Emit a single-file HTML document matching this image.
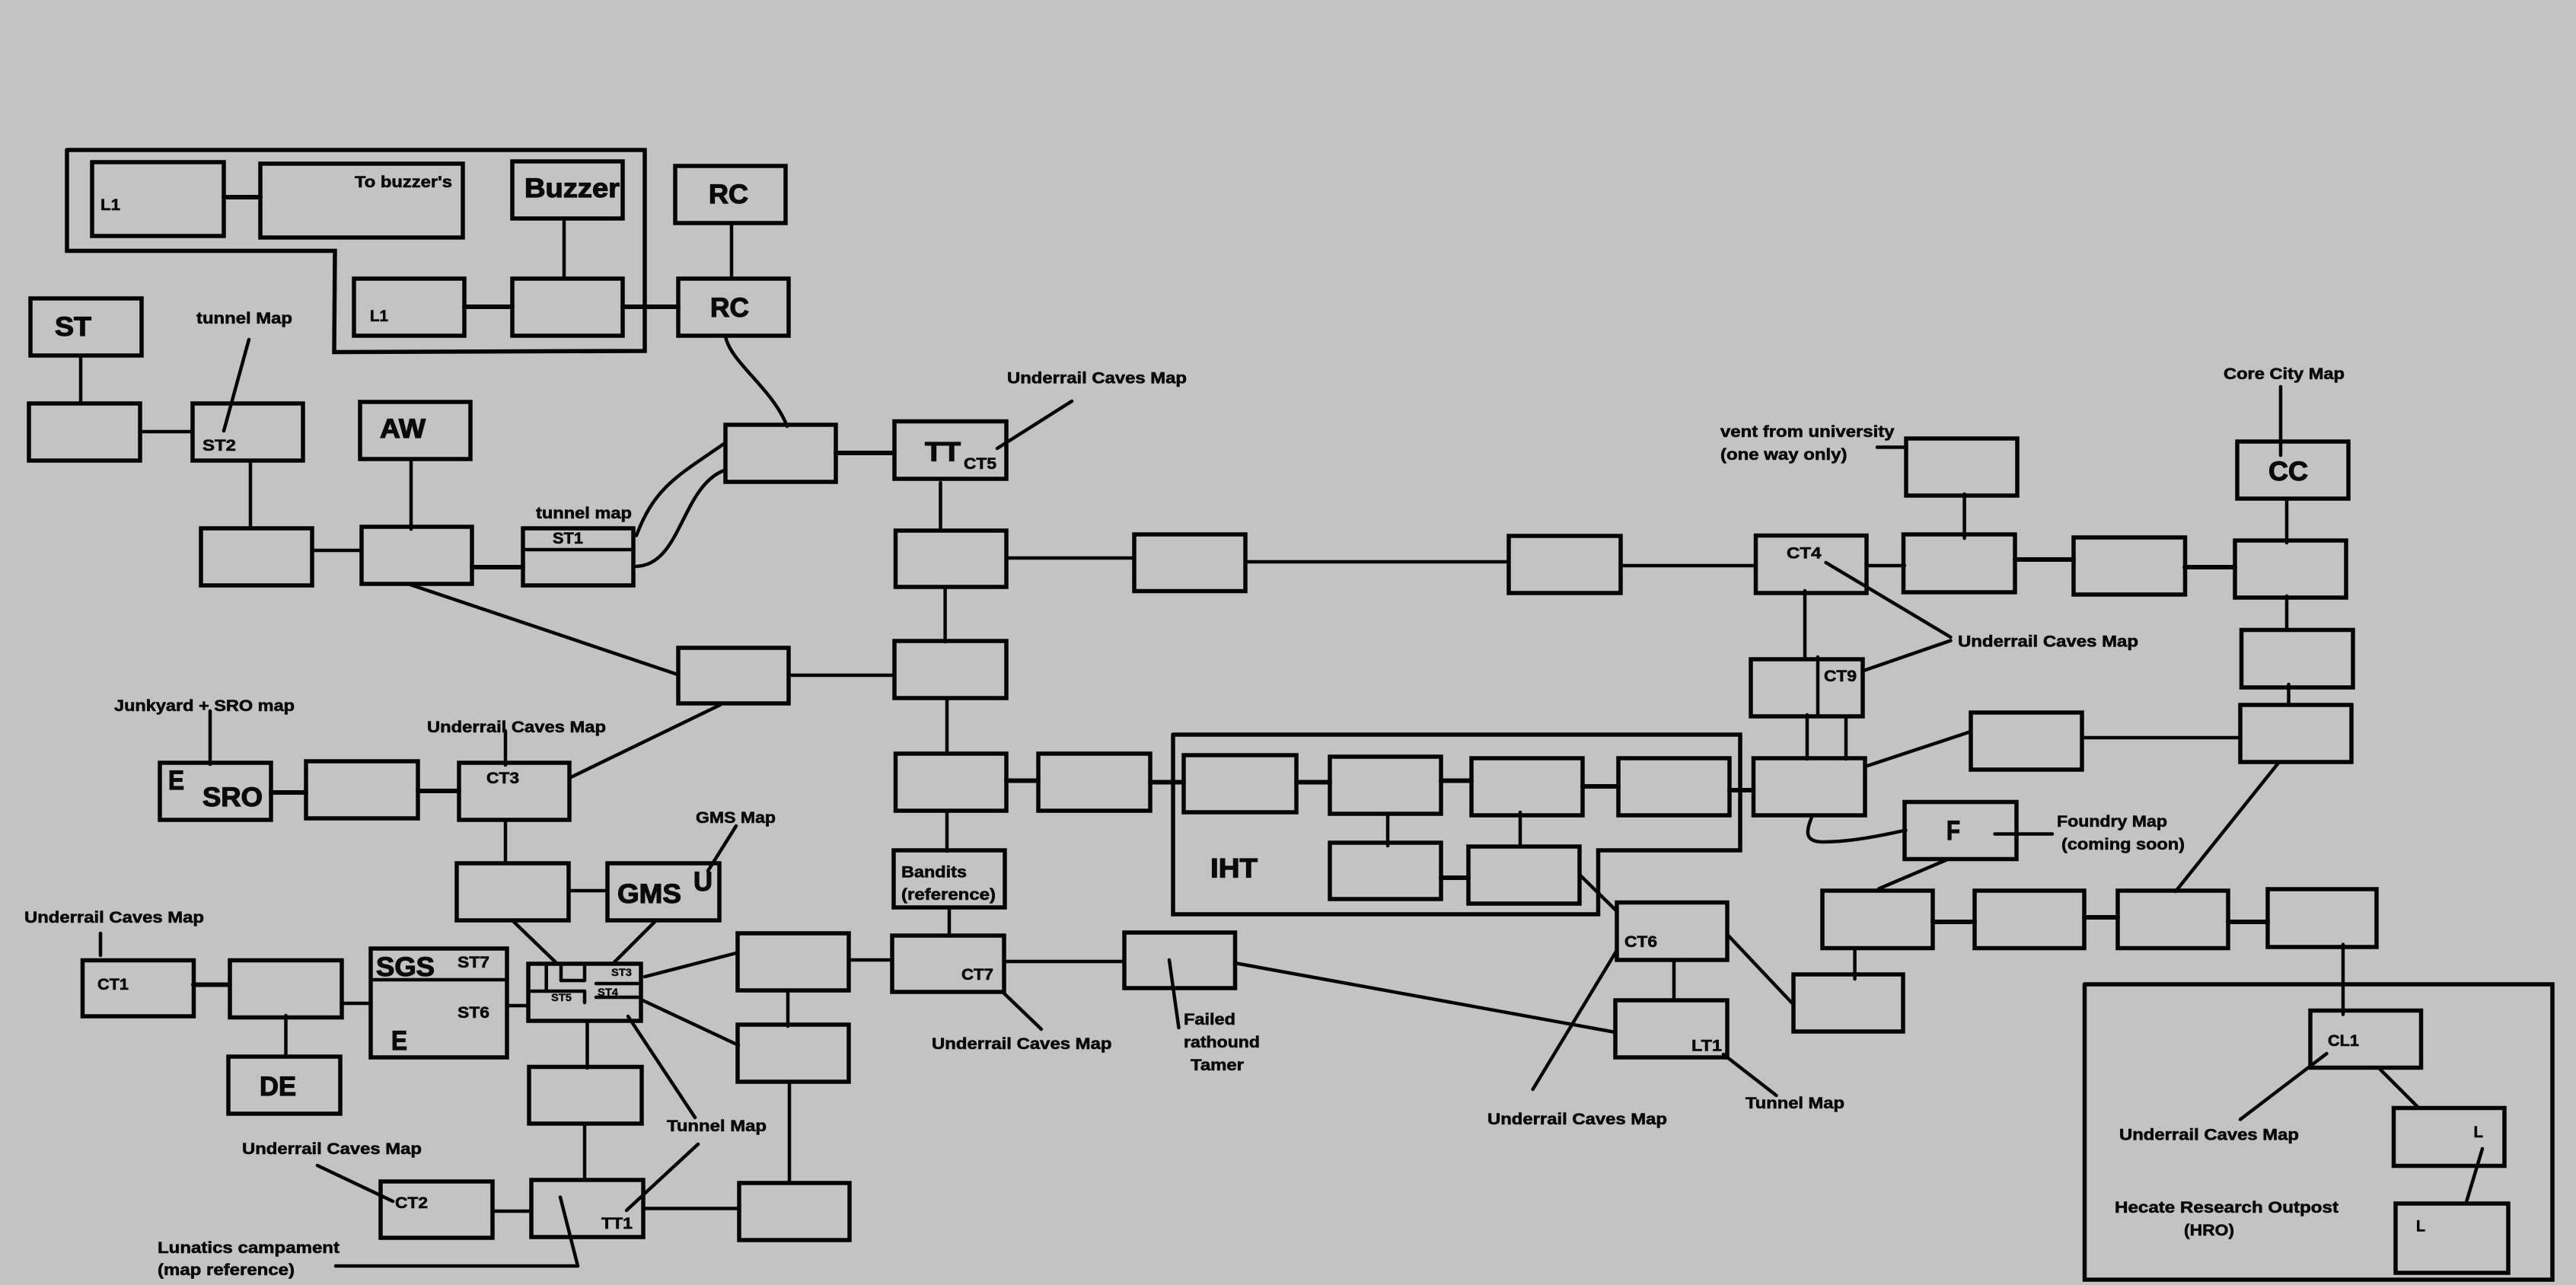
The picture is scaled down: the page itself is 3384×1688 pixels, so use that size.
<!DOCTYPE html>
<html><head><meta charset="utf-8"><style>
html,body{margin:0;padding:0;background:#c3c3c3}
svg{display:block}
.b rect{fill:none;stroke:#050505;stroke-width:5.5}
.g polyline{fill:none;stroke:#050505;stroke-width:5.5;stroke-linecap:round;stroke-linejoin:miter}
.l line,.l path{fill:none;stroke:#050505;stroke-width:4.5;stroke-linecap:round}
.h line{stroke:#050505;stroke-width:6;stroke-linecap:round}
text{font-family:"Liberation Sans",sans-serif;font-weight:bold;fill:#0a0a0a;stroke:#0a0a0a;stroke-width:.6;font-size:21px}
.x{font-size:35px;stroke-width:1.2}.s{font-size:14px;stroke-width:.4}
</style></head><body>
<svg xmlns="http://www.w3.org/2000/svg" width="3384" height="1688" viewBox="0 0 3384 1688">
<rect width="3384" height="1688" fill="#c3c3c3"/>
<g class="g">
<polyline points="88,197 847,197 847,461 439,462.5 440,329.5 88,329.5 88,197"/>
<polyline points="1541,965 2286,965 2286,1117 2099.5,1117 2099.5,1201 1541,1201 1541,965"/>
<polyline points="2738.5,1293 3353,1293 3353,1681 2738.5,1681 2738.5,1293"/>
</g>
<g class="b">
<rect x="121" y="213" width="173" height="97"/>
<rect x="342" y="215" width="266" height="97"/>
<rect x="673" y="212" width="145" height="75"/>
<rect x="887" y="218" width="145" height="75"/>
<rect x="465" y="366" width="145" height="75"/>
<rect x="673" y="366" width="145" height="75"/>
<rect x="891" y="366" width="145" height="75"/>
<rect x="40" y="392" width="146" height="75"/>
<rect x="38" y="530" width="146" height="75"/>
<rect x="253" y="530" width="145" height="75"/>
<rect x="473" y="528" width="145" height="75"/>
<rect x="264" y="694" width="146" height="75"/>
<rect x="475" y="692" width="145" height="75"/>
<rect x="687" y="694" width="145" height="75"/>
<rect x="953" y="558" width="145" height="75"/>
<rect x="891" y="851" width="145" height="73"/>
<rect x="210" y="1002" width="146" height="75"/>
<rect x="402" y="1000" width="147" height="75"/>
<rect x="603" y="1002" width="145" height="75"/>
<rect x="600" y="1134" width="147" height="75"/>
<rect x="798" y="1134" width="147" height="75"/>
<rect x="694" y="1266" width="148" height="75"/>
<rect x="487" y="1246" width="179" height="143"/>
<rect x="108.500" y="1261.500" width="146" height="73.500"/>
<rect x="302" y="1261.500" width="147" height="75"/>
<rect x="300" y="1388" width="147" height="75"/>
<rect x="969" y="1226" width="146" height="75"/>
<rect x="969" y="1346" width="146" height="75"/>
<rect x="971" y="1554" width="145" height="75"/>
<rect x="695" y="1401.500" width="148" height="74.500"/>
<rect x="698" y="1550" width="147" height="75"/>
<rect x="500" y="1552" width="147" height="74"/>
<rect x="1175" y="553.500" width="147" height="75.500"/>
<rect x="1176.500" y="697" width="145.500" height="74"/>
<rect x="1490" y="702" width="146" height="74.500"/>
<rect x="1982" y="704" width="147" height="75"/>
<rect x="1175" y="842" width="147" height="75"/>
<rect x="1176.500" y="990" width="145.500" height="75"/>
<rect x="1364" y="990" width="147" height="75"/>
<rect x="1555" y="992" width="148" height="75"/>
<rect x="1747" y="994" width="146" height="75"/>
<rect x="1933" y="996" width="146" height="75"/>
<rect x="2126" y="996" width="146" height="75"/>
<rect x="1747" y="1107" width="146" height="74"/>
<rect x="1929" y="1112" width="146" height="75"/>
<rect x="1174" y="1117" width="146" height="75"/>
<rect x="1172" y="1229" width="147" height="74"/>
<rect x="1477" y="1225" width="145.500" height="73"/>
<rect x="2306.500" y="703.500" width="145.500" height="75.500"/>
<rect x="2504" y="576" width="146" height="75"/>
<rect x="2500.500" y="702" width="146.500" height="76"/>
<rect x="2724" y="706" width="146.500" height="75"/>
<rect x="2939" y="580" width="146" height="75"/>
<rect x="2936" y="710" width="146" height="75"/>
<rect x="2944.500" y="827.500" width="146.500" height="75.500"/>
<rect x="2943" y="926" width="146" height="75"/>
<rect x="2589" y="936" width="146" height="75"/>
<rect x="2303.500" y="996" width="146.500" height="75"/>
<rect x="2300" y="866" width="147" height="75"/>
<rect x="2502" y="1053.500" width="147" height="75"/>
<rect x="2124" y="1185.500" width="145" height="75.500"/>
<rect x="2122" y="1314" width="147" height="75"/>
<rect x="2394" y="1170" width="145" height="75.500"/>
<rect x="2594" y="1170" width="144" height="75.500"/>
<rect x="2782" y="1170" width="145" height="75.500"/>
<rect x="2979" y="1168" width="143" height="76"/>
<rect x="2356" y="1280" width="144" height="75"/>
<rect x="3035" y="1327.500" width="145.500" height="75"/>
<rect x="3144.500" y="1455.500" width="145.500" height="76"/>
<rect x="3147" y="1581" width="148" height="91"/>
</g>
<g class="l">
<line x1="741" y1="287" x2="741" y2="366"/>
<line x1="961" y1="293" x2="961" y2="366"/>
<line x1="106" y1="467" x2="106" y2="530"/>
<line x1="327" y1="446" x2="294" y2="566"/>
<line x1="184" y1="567" x2="253" y2="567"/>
<line x1="329" y1="605" x2="329" y2="694"/>
<line x1="540" y1="603" x2="540" y2="695"/>
<line x1="410" y1="723" x2="475" y2="723"/>
<line x1="687" y1="722" x2="832" y2="722"/>
<line x1="539" y1="768" x2="890" y2="886"/>
<line x1="1036" y1="887" x2="1175" y2="887"/>
<line x1="946" y1="926" x2="750" y2="1021"/>
<line x1="276" y1="934" x2="276" y2="1004"/>
<line x1="664" y1="960" x2="664" y2="1005"/>
<line x1="664" y1="1077" x2="664" y2="1133"/>
<line x1="747" y1="1170" x2="798" y2="1170"/>
<line x1="967" y1="1085" x2="930" y2="1144"/>
<line x1="675" y1="1211" x2="732" y2="1266"/>
<line x1="860" y1="1211" x2="805" y2="1266"/>
<line x1="717.700" y1="1267" x2="717.700" y2="1302"/>
<line x1="694" y1="1302" x2="768" y2="1302"/>
<line x1="768" y1="1302" x2="768" y2="1317"/>
<line x1="737" y1="1267" x2="737" y2="1288"/>
<line x1="737" y1="1288" x2="768" y2="1288"/>
<line x1="768" y1="1267" x2="768" y2="1288"/>
<line x1="783" y1="1292" x2="838" y2="1292"/>
<line x1="783" y1="1310" x2="842" y2="1310"/>
<line x1="847" y1="1283" x2="967" y2="1252"/>
<line x1="842" y1="1313" x2="970" y2="1373"/>
<line x1="825" y1="1335" x2="913" y2="1468"/>
<line x1="666" y1="1321" x2="694" y2="1321"/>
<line x1="487" y1="1287" x2="666" y2="1287"/>
<line x1="449" y1="1318" x2="487" y2="1318"/>
<line x1="375.500" y1="1334" x2="375.500" y2="1387"/>
<line x1="132" y1="1226" x2="132" y2="1255"/>
<line x1="1035" y1="1301" x2="1035" y2="1348"/>
<line x1="1037" y1="1421" x2="1037" y2="1554"/>
<line x1="1115" y1="1261" x2="1172" y2="1261"/>
<line x1="771.500" y1="1341" x2="771.500" y2="1403"/>
<line x1="768" y1="1476" x2="768" y2="1550"/>
<line x1="647" y1="1591" x2="698" y2="1591"/>
<line x1="845" y1="1587.500" x2="971" y2="1587.500"/>
<line x1="417" y1="1531" x2="516" y2="1578"/>
<line x1="917" y1="1503" x2="823" y2="1590"/>
<line x1="441" y1="1663" x2="759" y2="1663"/>
<line x1="736" y1="1572.500" x2="759" y2="1663"/>
<line x1="1408" y1="527" x2="1310" y2="589"/>
<line x1="1235.500" y1="634" x2="1235.500" y2="697"/>
<line x1="1322" y1="733" x2="1490" y2="733"/>
<line x1="1636" y1="738" x2="1982" y2="738"/>
<line x1="2129" y1="743" x2="2306" y2="743"/>
<line x1="1241.600" y1="771" x2="1241.600" y2="843"/>
<line x1="1244" y1="917" x2="1244" y2="990"/>
<line x1="1823" y1="1069" x2="1823" y2="1111"/>
<line x1="1997" y1="1067" x2="1997" y2="1112"/>
<line x1="1244" y1="1065" x2="1244" y2="1118"/>
<line x1="1247" y1="1192" x2="1247" y2="1229"/>
<line x1="2075" y1="1149" x2="2124" y2="1197"/>
<line x1="1319" y1="1263" x2="1477" y2="1263"/>
<line x1="1317" y1="1303" x2="1368" y2="1352"/>
<line x1="1536" y1="1261" x2="1548.500" y2="1350"/>
<line x1="1622" y1="1265" x2="2122" y2="1356"/>
<line x1="2580.600" y1="649" x2="2580.600" y2="707"/>
<line x1="2452" y1="743" x2="2502" y2="743"/>
<line x1="2996" y1="508" x2="2996" y2="598"/>
<line x1="3004" y1="655" x2="3004" y2="713"/>
<line x1="3004" y1="783" x2="3004" y2="827"/>
<line x1="3006.500" y1="899" x2="3006.500" y2="926"/>
<line x1="2735" y1="969" x2="2943" y2="969"/>
<line x1="2450" y1="1007" x2="2589" y2="961"/>
<line x1="2371" y1="776" x2="2371" y2="865"/>
<line x1="2388" y1="863" x2="2388" y2="941"/>
<line x1="2374" y1="939" x2="2374" y2="997"/>
<line x1="2425" y1="941" x2="2425" y2="997"/>
<line x1="2398.600" y1="739" x2="2562.500" y2="837"/>
<line x1="2448" y1="881" x2="2562.500" y2="841.500"/>
<line x1="2466" y1="587.500" x2="2504" y2="587.500"/>
<line x1="2620.600" y1="1095.500" x2="2696" y2="1095.500"/>
<line x1="2994" y1="1001" x2="2858" y2="1171"/>
<line x1="2556" y1="1130" x2="2468" y2="1167.500"/>
<line x1="2199" y1="1261" x2="2199" y2="1314"/>
<line x1="2436.600" y1="1245.500" x2="2436.600" y2="1286"/>
<line x1="2269" y1="1227.500" x2="2354" y2="1317.500"/>
<line x1="2123" y1="1250" x2="2013.600" y2="1431"/>
<line x1="2264" y1="1385" x2="2333.500" y2="1439"/>
<line x1="3078" y1="1240.600" x2="3078" y2="1332.500"/>
<line x1="3056.500" y1="1384" x2="2943" y2="1470.500"/>
<line x1="3126.500" y1="1404.500" x2="3176" y2="1454"/>
<line x1="3261" y1="1509" x2="3240" y2="1579"/>
<path d="M953,441 C958,475 1015,510 1034,560"/>
<path d="M836,703.500 C860,640 890,625 951,583"/>
<path d="M836,744 C895,742 895,640 951,618"/>
<path d="M2381,1071 C2372,1092 2370,1106 2395,1106 C2430,1106 2470,1098 2503.500,1090.600"/>
</g>
<g class="h">
<line x1="294" y1="259" x2="342" y2="259"/>
<line x1="610" y1="403" x2="673" y2="403"/>
<line x1="818" y1="403" x2="891" y2="403"/>
<line x1="620" y1="745" x2="687" y2="745"/>
<line x1="1098" y1="595" x2="1175" y2="595"/>
<line x1="356" y1="1041" x2="402" y2="1041"/>
<line x1="549" y1="1039" x2="603" y2="1039"/>
<line x1="254" y1="1293.500" x2="302" y2="1293.500"/>
<line x1="1322" y1="1025.500" x2="1364" y2="1025.500"/>
<line x1="1511" y1="1027.500" x2="1555" y2="1027.500"/>
<line x1="1703" y1="1027.500" x2="1747" y2="1027.500"/>
<line x1="1893" y1="1025.500" x2="1933" y2="1025.500"/>
<line x1="2079" y1="1033" x2="2126" y2="1033"/>
<line x1="2272" y1="1038" x2="2303" y2="1038"/>
<line x1="1893" y1="1153" x2="1929" y2="1153"/>
<line x1="2647" y1="735" x2="2724" y2="735"/>
<line x1="2870" y1="745" x2="2936" y2="745"/>
<line x1="2539" y1="1211" x2="2594" y2="1211"/>
<line x1="2738" y1="1205" x2="2782" y2="1205"/>
<line x1="2927" y1="1211" x2="2979" y2="1211"/>
</g>
<g>
<text x="466" y="246" textLength="128" lengthAdjust="spacingAndGlyphs">To buzzer's</text>
<text x="132" y="276" textLength="26" lengthAdjust="spacingAndGlyphs">L1</text>
<text class="x" x="689" y="259" textLength="125" lengthAdjust="spacingAndGlyphs">Buzzer</text>
<text class="x" x="931" y="267" textLength="52" lengthAdjust="spacingAndGlyphs">RC</text>
<text class="x" x="933" y="416" textLength="51" lengthAdjust="spacingAndGlyphs">RC</text>
<text x="486" y="422" textLength="24" lengthAdjust="spacingAndGlyphs">L1</text>
<text class="x" x="72" y="441" textLength="48" lengthAdjust="spacingAndGlyphs">ST</text>
<text x="258" y="425" textLength="126" lengthAdjust="spacingAndGlyphs">tunnel Map</text>
<text x="266" y="592" textLength="44" lengthAdjust="spacingAndGlyphs">ST2</text>
<text class="x" x="499" y="575" textLength="60" lengthAdjust="spacingAndGlyphs">AW</text>
<text x="704" y="681" textLength="126" lengthAdjust="spacingAndGlyphs">tunnel map</text>
<text x="726" y="714" textLength="40" lengthAdjust="spacingAndGlyphs">ST1</text>
<text x="150" y="934" textLength="237" lengthAdjust="spacingAndGlyphs">Junkyard + SRO map</text>
<text x="561" y="962" textLength="235" lengthAdjust="spacingAndGlyphs">Underrail Caves Map</text>
<text x="639" y="1029" textLength="43" lengthAdjust="spacingAndGlyphs">CT3</text>
<text class="x" x="221" y="1037" textLength="21" lengthAdjust="spacingAndGlyphs">E</text>
<text class="x" x="266" y="1059" textLength="79" lengthAdjust="spacingAndGlyphs">SRO</text>
<text class="x" x="811" y="1186" textLength="84" lengthAdjust="spacingAndGlyphs">GMS</text>
<text class="x" x="911" y="1170" textLength="25" lengthAdjust="spacingAndGlyphs">U</text>
<text x="914" y="1081" textLength="105" lengthAdjust="spacingAndGlyphs">GMS Map</text>
<text class="s" x="803" y="1282" textLength="27" lengthAdjust="spacingAndGlyphs">ST3</text>
<text class="s" x="785" y="1308" textLength="27" lengthAdjust="spacingAndGlyphs">ST4</text>
<text class="s" x="724" y="1315" textLength="27" lengthAdjust="spacingAndGlyphs">ST5</text>
<text class="x" x="494" y="1282" textLength="77" lengthAdjust="spacingAndGlyphs">SGS</text>
<text x="601" y="1271" textLength="42" lengthAdjust="spacingAndGlyphs">ST7</text>
<text x="601" y="1337" textLength="42" lengthAdjust="spacingAndGlyphs">ST6</text>
<text class="x" x="514" y="1379" textLength="21" lengthAdjust="spacingAndGlyphs">E</text>
<text class="x" x="341" y="1439" textLength="48" lengthAdjust="spacingAndGlyphs">DE</text>
<text x="128" y="1300" textLength="41" lengthAdjust="spacingAndGlyphs">CT1</text>
<text x="32" y="1212" textLength="236" lengthAdjust="spacingAndGlyphs">Underrail Caves Map</text>
<text x="519" y="1587" textLength="43" lengthAdjust="spacingAndGlyphs">CT2</text>
<text x="790" y="1614" textLength="41" lengthAdjust="spacingAndGlyphs">TT1</text>
<text x="318" y="1516" textLength="236" lengthAdjust="spacingAndGlyphs">Underrail Caves Map</text>
<text x="876" y="1486" textLength="131" lengthAdjust="spacingAndGlyphs">Tunnel Map</text>
<text x="207" y="1646" textLength="239" lengthAdjust="spacingAndGlyphs">Lunatics campament</text>
<text x="207" y="1675" textLength="180" lengthAdjust="spacingAndGlyphs">(map reference)</text>
<text x="1323" y="503.500" textLength="236" lengthAdjust="spacingAndGlyphs">Underrail Caves Map</text>
<text class="x" x="1215" y="605.600" textLength="47" lengthAdjust="spacingAndGlyphs">TT</text>
<text x="1266" y="616" textLength="43" lengthAdjust="spacingAndGlyphs">CT5</text>
<text x="1184" y="1152.500" textLength="86" lengthAdjust="spacingAndGlyphs">Bandits</text>
<text x="1184" y="1182" textLength="124" lengthAdjust="spacingAndGlyphs">(reference)</text>
<text class="x" x="1590" y="1152.500" textLength="62" lengthAdjust="spacingAndGlyphs">IHT</text>
<text x="1263" y="1287" textLength="42" lengthAdjust="spacingAndGlyphs">CT7</text>
<text x="1224" y="1378" textLength="236.500" lengthAdjust="spacingAndGlyphs">Underrail Caves Map</text>
<text x="1555" y="1346" textLength="68" lengthAdjust="spacingAndGlyphs">Failed</text>
<text x="1555" y="1376" textLength="100" lengthAdjust="spacingAndGlyphs">rathound</text>
<text x="1564" y="1406" textLength="70" lengthAdjust="spacingAndGlyphs">Tamer</text>
<text x="2347" y="733.500" textLength="45.500" lengthAdjust="spacingAndGlyphs">CT4</text>
<text x="2396" y="895" textLength="43" lengthAdjust="spacingAndGlyphs">CT9</text>
<text x="2572" y="849.500" textLength="237" lengthAdjust="spacingAndGlyphs">Underrail Caves Map</text>
<text x="2260" y="574" textLength="228.500" lengthAdjust="spacingAndGlyphs">vent from university</text>
<text x="2260" y="604" textLength="166.500" lengthAdjust="spacingAndGlyphs">(one way only)</text>
<text x="2921" y="498" textLength="159" lengthAdjust="spacingAndGlyphs">Core City Map</text>
<text class="x" x="2980" y="631" textLength="52" lengthAdjust="spacingAndGlyphs">CC</text>
<text class="x" x="2557" y="1103" textLength="18" lengthAdjust="spacingAndGlyphs">F</text>
<text x="2702" y="1086" textLength="145" lengthAdjust="spacingAndGlyphs">Foundry Map</text>
<text x="2708" y="1116" textLength="162" lengthAdjust="spacingAndGlyphs">(coming soon)</text>
<text x="2134" y="1244" textLength="43" lengthAdjust="spacingAndGlyphs">CT6</text>
<text x="2222" y="1380.500" textLength="40" lengthAdjust="spacingAndGlyphs">LT1</text>
<text x="2293" y="1456" textLength="130" lengthAdjust="spacingAndGlyphs">Tunnel Map</text>
<text x="1954" y="1477" textLength="236" lengthAdjust="spacingAndGlyphs">Underrail Caves Map</text>
<text x="3058" y="1374" textLength="41" lengthAdjust="spacingAndGlyphs">CL1</text>
<text x="3249.500" y="1494" textLength="12.500" lengthAdjust="spacingAndGlyphs">L</text>
<text x="3174" y="1617.500" textLength="12" lengthAdjust="spacingAndGlyphs">L</text>
<text x="2784" y="1497.500" textLength="236" lengthAdjust="spacingAndGlyphs">Underrail Caves Map</text>
<text x="2778" y="1593" textLength="294" lengthAdjust="spacingAndGlyphs">Hecate Research Outpost</text>
<text x="2869" y="1623" textLength="66" lengthAdjust="spacingAndGlyphs">(HRO)</text>
</g>
</svg>
</body></html>
